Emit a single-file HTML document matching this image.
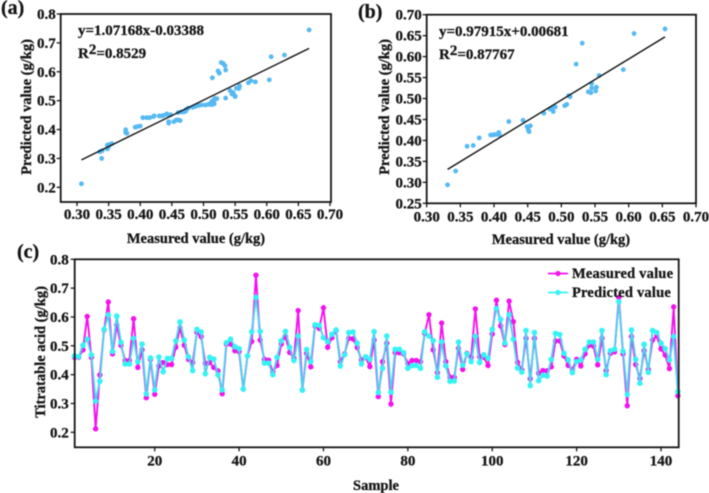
<!DOCTYPE html>
<html>
<head>
<meta charset="utf-8">
<style>
html,body{margin:0;padding:0;background:#fff;}
svg{display:block;}
text{font-family:"Liberation Serif",serif;font-weight:bold;fill:#161616;stroke:#161616;stroke-width:0.3px;}
</style>
</head>
<body>
<svg id="fig" width="709" height="493" viewBox="0 0 709 493" xmlns="http://www.w3.org/2000/svg">
  <g id="root" style="filter:blur(0.45px)">
    <text x="1" y="14" font-size="20">(a)</text>
    <text x="358" y="18" font-size="20">(b)</text>
    <text x="17" y="258" font-size="20">(c)</text>

    <text x="78" y="35" font-size="15">y=1.07168x-0.03388</text>
    <text x="78" y="58" font-size="15">R<tspan font-size="15" dy="-4">2</tspan><tspan dy="4">=0.8529</tspan></text>
    <text x="439" y="36" font-size="15">y=0.97915x+0.00681</text>
    <text x="439" y="59" font-size="15">R<tspan font-size="15" dy="-4">2</tspan><tspan dy="4">=0.87767</tspan></text>

    <text x="196" y="243" font-size="14.5" text-anchor="middle">Measured value (g/kg)</text>
    <text x="561" y="244" font-size="14.5" text-anchor="middle">Measured value (g/kg)</text>
    <text transform="translate(31,107) rotate(-90)" font-size="14.5" text-anchor="middle">Predicted value (g/kg)</text>
    <text transform="translate(389,107) rotate(-90)" font-size="14.5" text-anchor="middle">Predicted value (g/kg)</text>
    <text transform="translate(45,352) rotate(-90)" font-size="14.5" text-anchor="middle">Titratable acid (g/kg)</text>
    <text x="376" y="490" font-size="14.5" text-anchor="middle">Sample</text>
  </g>
</svg>
<script>
var measuredSeries = [
.46,.46,.486,.602,.46,.212,.399,.555,.652,.472,
.572,.502,.449,.449,.594,.425,.486,.32,.453,.332,
.43,.442,.435,.435,.495,.562,.502,.453,.442,.546,
.532,.439,.442,.425,.413,.334,.506,.506,.483,.48,
.35,.465,.515,.745,.52,.453,.45,.41,.432,.506,
.532,.477,.457,.622,.347,.474,.427,.569,.56,.632,
.495,.528,.553,.445,.472,.526,.524,.494,.451,.46,
.428,.52,.324,.445,.509,.298,.476,.476,.472,.439,
.449,.449,.445,.543,.608,.486,.407,.579,.445,.391,
.391,.491,.418,.474,.46,.628,.462,.46,.432,.541,
.658,.569,.504,.655,.584,.443,.416,.526,.386,.526,
.405,.414,.413,.427,.517,.517,.465,.432,.418,.453,
.43,.472,.502,.499,.434,.526,.414,.474,.479,.668,
.472,.292,.532,.435,.387,.483,.418,.52,.534,.489,
.468,.421,.635,.327];
var predictedSeries = [
.465,.462,.502,.523,.468,.308,.377,.557,.607,.48,
.603,.512,.437,.437,.526,.445,.506,.333,.458,.347,
.461,.41,.456,.456,.517,.583,.52,.462,.414,.557,
.548,.403,.46,.454,.399,.347,.511,.523,.497,.49,
.35,.465,.549,.668,.55,.44,.44,.4,.46,.517,
.55,.495,.449,.534,.346,.487,.445,.573,.571,.528,
.514,.54,.555,.43,.469,.546,.548,.509,.437,.462,
.453,.549,.338,.422,.534,.339,.488,.488,.476,.422,
.431,.432,.422,.549,.534,.518,.391,.514,.43,.377,
.378,.513,.433,.472,.445,.533,.442,.469,.457,.557,
.629,.592,.509,.608,.523,.423,.409,.553,.362,.546,
.379,.398,.395,.453,.543,.539,.474,.451,.407,.445,
.451,.488,.513,.513,.453,.553,.4,.483,.488,.653,
.481,.331,.555,.453,.37,.505,.408,.553,.546,.509,
.49,.451,.532,.341];

var scatterAMeasured = [.307,.339,.336,.34,.348,.35,.351,.355,.348,.377,.377,.379,.392,.395,.4,.404,.41,.415,.421,.422,.43,.434,.437,.442,.444,.448,.445,.445,.453,.457,.46,.463,.46,.465,.469,.472,.473,.476,.483,.487,.492,.497,.503,.508,.51,.513,.516,.518,.521,.517,.513,.516,.514,.523,.525,.528,.531,.534,.535,.535,.542,.545,.55,.547,.55,.552,.557,.556,.571,.575,.582,.604,.607,.628,.667];
var scatterAPredicted = [.212,.3,.323,.327,.333,.341,.348,.351,.346,.399,.389,.387,.408,.41,.412,.441,.441,.441,.445,.447,.447,.447,.449,.454,.451,.451,.422,.427,.427,.433,.433,.431,.459,.461,.461,.464,.47,.474,.477,.48,.483,.485,.485,.487,.489,.497,.502,.508,.507,.489,.486,.497,.579,.603,.595,.632,.629,.621,.606,.509,.535,.523,.516,.528,.514,.543,.551,.542,.562,.569,.565,.572,.652,.658,.745];
var scatterASlope = 1.07168;
var scatterAIntercept = -0.03388;

var scatterBMeasured = [.331,.343,.36,.369,.378,.395,.398,.401,.406,.407,.408,.422,.443,.449,.45,.454,.451,.452,.474,.483,.487,.488,.491,.505,.508,.511,.513,.522,.531,.54,.544,.545,.545,.551,.552,.556,.592,.608,.654];
var scatterBPredicted = [.294,.327,.386,.388,.406,.413,.413,.414,.414,.419,.414,.445,.448,.433,.431,.435,.425,.421,.465,.475,.477,.469,.48,.483,.486,.507,.504,.582,.632,.516,.514,.536,.525,.518,.527,.555,.569,.655,.666];
var scatterBSlope = 0.97915;
var scatterBIntercept = 0.00681;

var panelAXTicks = [0.30,0.35,0.40,0.45,0.50,0.55,0.60,0.65,0.70];
var panelAYTicks = [0.2,0.3,0.4,0.5,0.6,0.7,0.8];
var panelBXTicks = [0.30,0.35,0.40,0.45,0.50,0.55,0.60,0.65,0.70];
var panelBYTicks = [0.25,0.30,0.35,0.40,0.45,0.50,0.55,0.60,0.65,0.70];
var panelCXTicks = [20,40,60,80,100,120,140];
var panelCYTicks = [0.2,0.3,0.4,0.5,0.6,0.7,0.8];

var NS = 'http://www.w3.org/2000/svg';
var root = document.getElementById('root');
function make(tag, attrs, parent) {
  var el = document.createElementNS(NS, tag);
  for (var k in attrs) { el.setAttribute(k, attrs[k]); }
  (parent || root).appendChild(el);
  return el;
}
function scale(d0, d1, r0, r1) {
  return function (v) { return r0 + (v - d0) * (r1 - r0) / (d1 - d0); };
}

function drawAxes(prefix, box, xs, ys, xTicks, yTicks, xDec, yDec, labelYOffset, labelXOffset) {
  var frame = make('rect', {x: box.l, y: box.t, width: box.r - box.l, height: box.b - box.t, fill: 'none', stroke: '#161616', 'stroke-width': 1.8});
  
  
  xTicks.forEach(function (t) {
    var tick = make('line', {x1: xs(t), x2: xs(t), y1: box.b, y2: box.b + 4, stroke: '#161616', 'stroke-width': 1.3});
    
    
    var label = make('text', {x: xs(t), y: box.b + labelYOffset, 'font-size': 15, 'text-anchor': 'middle'});
    label.textContent = t.toFixed(xDec);
    
    
  });
  yTicks.forEach(function (t) {
    var tick = make('line', {x1: box.l - 4, x2: box.l, y1: ys(t), y2: ys(t), stroke: '#161616', 'stroke-width': 1.3});
    
    
    var label = make('text', {x: box.l - labelXOffset, y: ys(t) + 5, 'font-size': 15, 'text-anchor': 'end'});
    label.textContent = t.toFixed(yDec);
    
    
  });
}

function drawScatter(prefix, xs, ys, mx, py, slope, intercept) {
  mx.forEach(function (v, i) {
    var dot = make('circle', {cx: xs(v), cy: ys(py[i]), r: 2.4, fill: '#56b9f2'});
    
    
  });
  var x0 = Math.min.apply(null, mx), x1 = Math.max.apply(null, mx);
  var fit = make('line', {x1: xs(x0), y1: ys(slope * x0 + intercept), x2: xs(x1), y2: ys(slope * x1 + intercept), stroke: '#111', 'stroke-width': 1.4});
  
  
}

/* panel a */
var boxA = {l: 60.7, r: 331, t: 14, b: 202};
var xA = scale(0.30, 0.70, 77, 330);
var yA = scale(0.2, 0.8, 187.3, 14);
drawScatter('panel-a', xA, yA, scatterAMeasured, scatterAPredicted, scatterASlope, scatterAIntercept);
drawAxes('panel-a', boxA, xA, yA, panelAXTicks, panelAYTicks, 2, 1, 17, 5);

/* panel b */
var boxB = {l: 426.7, r: 696, t: 14.7, b: 203.3};
var xB = scale(0.30, 0.70, 426.7, 696);
var yB = scale(0.25, 0.70, 203.3, 14.7);
drawScatter('panel-b', xB, yB, scatterBMeasured, scatterBPredicted, scatterBSlope, scatterBIntercept);
drawAxes('panel-b', boxB, xB, yB, panelBXTicks, panelBYTicks, 2, 2, 18, 5);

/* panel c */
var boxC = {l: 74.7, r: 678.7, t: 259.3, b: 447.3};
var xC = scale(20, 140, 154.7, 661);
var yC = scale(0.2, 0.8, 432.3, 259.3);
function seriesPoints(arr) {
  return arr.map(function (v, i) { return xC(i + 1).toFixed(2) + ',' + yC(v).toFixed(2); }).join(' ');
}
var measuredLine = make('polyline', {points: seriesPoints(measuredSeries), fill: 'none', stroke: '#f312ee', 'stroke-width': 1.9});


measuredSeries.forEach(function (v, i) {
  var dot = make('circle', {cx: xC(i + 1), cy: yC(v), r: 2.7, fill: '#f312ee'});
  
  
});
var predictedLine = make('polyline', {points: seriesPoints(predictedSeries), fill: 'none', stroke: '#4fd0ee', 'stroke-width': 1.9});


predictedSeries.forEach(function (v, i) {
  var dot = make('circle', {cx: xC(i + 1), cy: yC(v), r: 2.8, fill: '#36f2f4'});
  
  
});
drawAxes('panel-c', boxC, xC, yC, panelCXTicks, panelCYTicks, 0, 1, 18, 6);

/* legend */
var legendNames = ['Measured value', 'Predicted value'];
var legendColors = ['#f312ee', '#36f2f4'];
var legendRows = [273.5, 292.5];
legendNames.forEach(function (name, i) {
  var key = make('line', {x1: 548, x2: 568, y1: legendRows[i], y2: legendRows[i], stroke: legendColors[i], 'stroke-width': 1.8});
  
  
  var keyDot = make('circle', {cx: 558, cy: legendRows[i], r: 2.6, fill: legendColors[i]});
  
  
  var label = make('text', {x: 572, y: legendRows[i] + 4.5, 'font-size': 14.5, 'letter-spacing': 0.2});
  label.textContent = name;
  
  
});
</script>
</body>
</html>
